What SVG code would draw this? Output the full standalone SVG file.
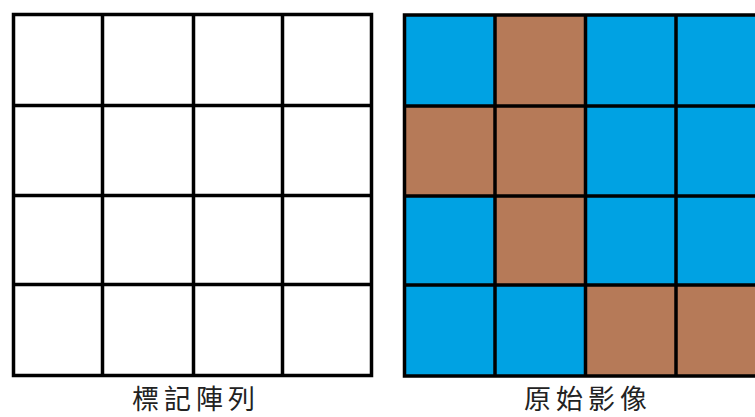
<svg xmlns="http://www.w3.org/2000/svg" width="755" height="417" viewBox="0 0 755 417">
<style>
.grid{fill:none;stroke:#000;stroke-width:3.5}
.b{fill:#00A2E3}
.r{fill:#B67A58}
.lbl{font-family:"Noto Sans CJK TC","Noto Sans CJK SC",sans-serif;font-size:27px;fill:#222;text-anchor:middle;letter-spacing:5px}
</style>
<rect width="755" height="417" fill="#fff"/>
<g id="label-array">
<rect x="13.5" y="14.5" width="358" height="361" fill="#fff"/>
<path class="grid" d="M13.5 14.5H371.5V375.5H13.5Z M102.5 14.5V375.5 M193.5 14.5V375.5 M282.5 14.5V375.5 M13.5 105.5H371.5 M13.5 195.5H371.5 M13.5 284.5H371.5"/>
<text class="lbl" x="196" y="409">標記陣列</text>
</g>
<g id="original-image">
<rect class="b" x="404.5" y="15" width="90.5" height="91"/>
<rect class="r" x="495" y="15" width="90.5" height="91"/>
<rect class="b" x="585.5" y="15" width="90.5" height="91"/>
<rect class="b" x="676" y="15" width="90" height="91"/>
<rect class="r" x="404.5" y="106" width="90.5" height="90"/>
<rect class="r" x="495" y="106" width="90.5" height="90"/>
<rect class="b" x="585.5" y="106" width="90.5" height="90"/>
<rect class="b" x="676" y="106" width="90" height="90"/>
<rect class="b" x="404.5" y="196" width="90.5" height="89"/>
<rect class="r" x="495" y="196" width="90.5" height="89"/>
<rect class="b" x="585.5" y="196" width="90.5" height="89"/>
<rect class="b" x="676" y="196" width="90" height="89"/>
<rect class="b" x="404.5" y="285" width="90.5" height="91"/>
<rect class="b" x="495" y="285" width="90.5" height="91"/>
<rect class="r" x="585.5" y="285" width="90.5" height="91"/>
<rect class="r" x="676" y="285" width="90" height="91"/>
<path class="grid" d="M404.5 15H766V376H404.5Z M495 15V376 M585.5 15V376 M676 15V376 M404.5 106H766 M404.5 196H766 M404.5 285H766"/>
<text class="lbl" x="588" y="409">原始影像</text>
</g>
<g id="connectors"/>
</svg>
